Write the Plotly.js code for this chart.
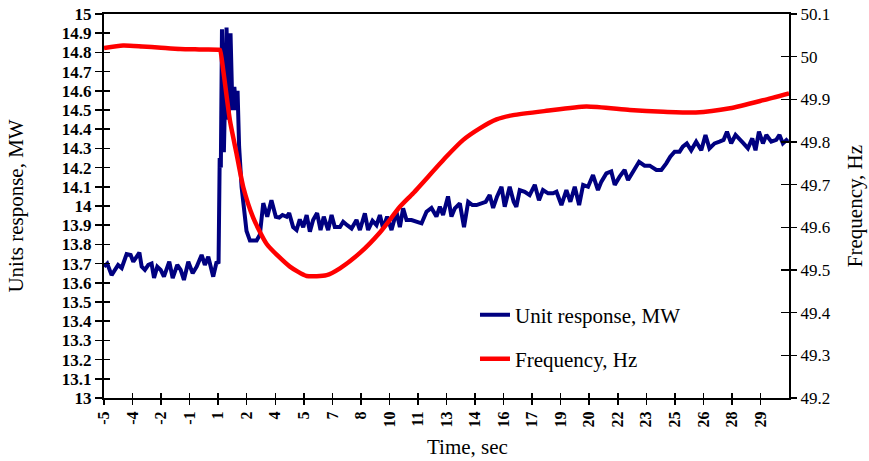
<!DOCTYPE html>
<html>
<head>
<meta charset="utf-8">
<script src="https://cdn.plot.ly/plotly-3.0.1.min.js"></script>
<style>html,body{margin:0;padding:0;background:#fff;}#chart{width:869px;height:461px;}</style>
</head>
<body>
<div id="chart"></div>
<script>
// ---- data ----
const mwTime = [-5.0,-4.83,-4.6,-4.42,-4.26,-4.07,-3.81,-3.6,-3.46,-3.28,-3.14,-3.02,-2.85,-2.67,-2.5,-2.37,-2.2,-2.02,-1.85,-1.57,-1.39,-1.15,-0.97,-0.8,-0.57,-0.34,-0.13,0.13,0.3,0.48,0.74,0.92,1.02,1.08,1.14,1.2,1.3,1.44,1.55,1.65,1.75,1.85,1.95,2.02,2.1,2.23,2.4,2.49,2.67,3.02,3.19,3.37,3.58,3.8,4.03,4.21,4.38,4.6,4.73,4.94,5.12,5.29,5.47,5.65,5.82,5.99,6.2,6.38,6.55,6.78,6.96,7.13,7.4,7.57,7.78,8.01,8.27,8.45,8.71,8.88,9.11,9.32,9.5,9.67,9.88,10.11,10.37,10.55,10.72,10.9,11.16,11.42,11.69,11.95,12.21,12.47,12.65,12.82,13.08,13.26,13.44,13.7,13.92,14.14,14.36,14.58,14.84,15.06,15.27,15.45,15.66,15.89,16.06,16.32,16.53,16.67,16.85,17.11,17.37,17.64,17.86,18.07,18.34,18.6,18.78,19.04,19.3,19.51,19.74,19.97,20.18,20.44,20.7,20.96,21.14,21.4,21.66,21.84,22.1,22.36,22.54,22.8,23.12,23.41,23.68,24.03,24.29,24.55,24.76,24.99,25.25,25.42,25.63,25.86,26.12,26.39,26.61,26.82,27.09,27.35,27.56,27.74,27.96,28.19,28.4,28.61,28.84,29.07,29.24,29.42,29.63,29.81,30.07,30.33,30.5,30.68,30.94];
const mwValue = [13.684,13.70,13.64,13.667,13.693,13.677,13.75,13.745,13.71,13.736,13.757,13.684,13.667,13.693,13.70,13.625,13.684,13.667,13.632,13.71,13.625,13.693,13.667,13.615,13.71,13.65,13.684,13.745,13.693,13.736,13.632,13.71,13.70,14.25,14.20,14.92,14.28,14.93,14.45,14.90,14.50,14.62,14.50,14.60,14.31,14.10,13.96,13.87,13.82,13.82,13.85,14.015,13.944,14.03,13.944,13.94,13.953,13.944,13.963,13.89,13.875,13.93,13.89,13.953,13.866,13.927,13.963,13.875,13.944,13.875,13.953,13.89,13.89,13.918,13.90,13.883,13.927,13.875,13.962,13.875,13.923,13.90,13.953,13.883,13.944,13.875,13.97,13.89,13.988,13.927,13.927,13.918,13.91,13.97,13.99,13.945,13.996,13.953,14.05,13.945,13.988,14.014,13.89,14.022,14.005,14.005,14.014,14.022,14.057,13.99,14.05,14.10,13.996,14.10,14.022,13.996,14.083,14.074,14.057,14.11,14.03,14.083,14.066,14.066,14.074,14.005,14.083,14.022,14.10,14.005,14.11,14.10,14.161,14.083,14.127,14.17,14.18,14.11,14.153,14.1875,14.135,14.18,14.23,14.21,14.21,14.1875,14.1875,14.222,14.257,14.283,14.283,14.309,14.326,14.29,14.335,14.29,14.37,14.30,14.326,14.335,14.344,14.387,14.326,14.37,14.344,14.326,14.30,14.352,14.29,14.387,14.326,14.37,14.335,14.344,14.37,14.326,14.35];

const hzTime = [-5,-4,-3,-2,-1,0,1.0,1.09,1.27,1.62,1.97,2.32,2.84,3.55,4.77,5.65,6.7,7.4,8.45,9.5,10.55,11.25,13.0,13.88,14.75,15.63,16.5,18.25,20.35,22.63,24.4,26.1,27.9,29.65,31];
const hzValue = [50.02,50.026,50.024,50.021,50.018,50.017,50.016,50.016,49.967,49.85,49.772,49.694,49.623,49.561,49.508,49.486,49.488,49.504,49.54,49.588,49.648,49.68,49.766,49.805,49.832,49.853,49.863,49.873,49.883,49.875,49.871,49.869,49.879,49.898,49.914];

const timeTickValues = [-5,-3.5,-2,-0.5,1,2.5,4,5.5,7,8.5,10,11.5,13,14.5,16,17.5,19,20.5,22,23.5,25,26.5,28,29.5];
const timeTickLabels = ["-5","-4","-2","-1","1","2","4","5","7","8","10","11","13","14","16","17","19","20","22","23","25","26","28","29"];
const mwTickValues = [13,13.1,13.2,13.3,13.4,13.5,13.6,13.7,13.8,13.9,14,14.1,14.2,14.3,14.4,14.5,14.6,14.7,14.8,14.9,15];
const mwTickLabels = ["13","13.1","13.2","13.3","13.4","13.5","13.6","13.7","13.8","13.9","14","14.1","14.2","14.3","14.4","14.5","14.6","14.7","14.8","14.9","15"];
const hzTickValues = [49.2,49.3,49.4,49.5,49.6,49.7,49.8,49.9,50,50.1];
const hzTickLabels = ["49.2","49.3","49.4","49.5","49.6","49.7","49.8","49.9","50","50.1"];

const seriesNames = ["Unit response, MW", "Frequency, Hz"];
const xTitle = "Time, sec";

// ---- chart ----
const serif = "Liberation Serif, Times New Roman, serif";
const xRange = [-5, 31], mwRange = [13, 15], hzRange = [49.2, 50.1];

const traces = [
  {type:'scatter', mode:'lines', x:mwTime, y:mwValue, name:seriesNames[0],
   line:{color:'#000080', width:4}, xaxis:'x', yaxis:'y', legend:'legend'},
  {type:'scatter', mode:'lines', x:hzTime, y:hzValue, name:seriesNames[1],
   line:{color:'#FF0000', width:4.5, shape:'spline', smoothing:0.6}, xaxis:'x', yaxis:'y2', legend:'legend2'},
  {type:'scatter', mode:'lines', x:[null], y:[null], xaxis:'x2', yaxis:'y3', showlegend:false, hoverinfo:'skip'},
  {type:'scatter', mode:'lines', x:[null], y:[null], xaxis:'x', yaxis:'y4', showlegend:false, hoverinfo:'skip'}
];

const tickFontBold = {family:serif, size:17, color:'#000', weight:'bold'};
const tickFont = {family:serif, size:17, color:'#000'};
const titleFont = {family:serif, size:21, color:'#000'};

const layout = {
  width:869, height:461,
  margin:{l:104, r:80, t:14, b:63, pad:0},
  paper_bgcolor:'#fff', plot_bgcolor:'#fff',
  showlegend:true,
  xaxis:{range:xRange, tickmode:'array', tickvals:timeTickValues, ticktext:timeTickLabels,
    tickangle:-90, ticks:'outside', ticklen:5, tickwidth:1.5, tickcolor:'#000',
    showline:true, linecolor:'#000', linewidth:2, mirror:true,
    showgrid:false, zeroline:false, tickfont:{family:serif, size:16, color:'#000', weight:'bold'}},
  xaxis2:{range:xRange, overlaying:'x', anchor:'y', side:'bottom', tickmode:'array', tickvals:timeTickValues,
    ticks:'inside', ticklen:5, tickwidth:1.5, tickcolor:'#000', showticklabels:false,
    showline:false, showgrid:false, zeroline:false},
  yaxis:{range:mwRange, tickmode:'array', tickvals:mwTickValues, ticktext:mwTickLabels,
    ticks:'outside', ticklen:7, tickwidth:1.5, tickcolor:'#000',
    showline:true, linecolor:'#000', linewidth:2,
    showgrid:false, zeroline:false, tickfont:tickFontBold,
    title:{text:'Units response, MW', font:titleFont, standoff:32}},
  yaxis2:{range:hzRange, overlaying:'y', side:'right', anchor:'x', tickmode:'array', tickvals:hzTickValues, ticktext:hzTickLabels,
    ticks:'outside', ticklen:6, tickwidth:1.5, tickcolor:'#000',
    showline:true, linecolor:'#000', linewidth:2,
    showgrid:false, zeroline:false, tickfont:tickFont,
    title:{text:'Frequency, Hz', font:titleFont, standoff:18}},
  yaxis3:{range:mwRange, overlaying:'y', side:'left', anchor:'x2', tickmode:'array', tickvals:mwTickValues,
    ticks:'inside', ticklen:6, tickwidth:1.5, tickcolor:'#000', showticklabels:false,
    showline:false, showgrid:false, zeroline:false},
  yaxis4:{range:hzRange, overlaying:'y', side:'right', anchor:'x', tickmode:'array', tickvals:hzTickValues,
    ticks:'inside', ticklen:8, tickwidth:1.5, tickcolor:'#000', showticklabels:false,
    showline:false, showgrid:false, zeroline:false},
  annotations:[{text:xTitle, xref:'paper', yref:'paper', x:0.531, y:-0.128, xanchor:'center', yanchor:'middle',
    showarrow:false, font:titleFont}],
  legend:{x:0.5416, xanchor:'left', y:0.216, yanchor:'middle', bgcolor:'rgba(0,0,0,0)', borderwidth:0,
    font:{family:serif, size:21, color:'#000'}},
  legend2:{x:0.5416, xanchor:'left', y:0.1016, yanchor:'middle', bgcolor:'rgba(0,0,0,0)', borderwidth:0,
    font:{family:serif, size:21, color:'#000'}}
};

Plotly.newPlot('chart', traces, layout, {displayModeBar:false, staticPlot:true});
</script>
</body>
</html>
